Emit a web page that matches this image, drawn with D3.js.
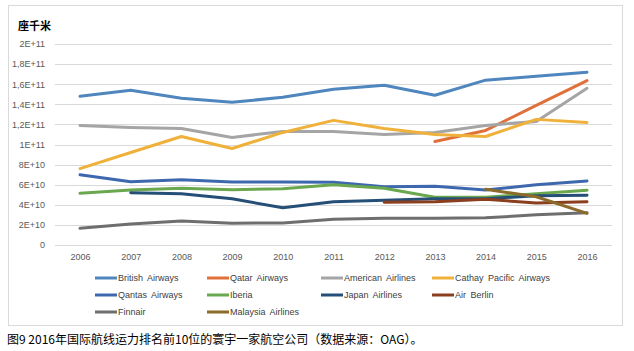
<!doctype html>
<html>
  <head>
    <meta charset="utf-8">
    <script src="https://d3js.org/d3.v7.min.js"></script>
    <style>
      body { margin: 0; background: #fff; font-family: "Liberation Sans", Arial, sans-serif; }
      .grid line { stroke: #d9d9d9; stroke-width: 1; }
      .tick text { fill: #595959; font-size: 9px; }
      path.series { fill: none; stroke-width: 3; stroke-linejoin: round; stroke-linecap: round; }
      text.legend { fill: #404040; font-size: 9px; }
    </style>
  </head>
  <body>
    <svg id="chart" width="634" height="351"></svg>
    <script>
      // years along the x axis
      var years = [2006, 2007, 2008, 2009, 2010, 2011, 2012, 2013, 2014, 2015, 2016];
      var yTicks = [0, 2e10, 4e10, 6e10, 8e10, 1e11, 1.2e11, 1.4e11, 1.6e11, 1.8e11, 2e11];
      var yTickLabels = ["0", "2E+10", "4E+10", "6E+10", "8E+10", "1E+11", "1,2E+11", "1,4E+11", "1,6E+11", "1,8E+11", "2E+11"];

      // seat kilometres, in units of 1E+10 (null = no data)
      var britishAirways = [14.8, 15.4, 14.6, 14.2, 14.7, 15.5, 15.9, 14.9, 16.4, 16.8, 17.2];
      var qatarAirways   = [null, null, null, null, null, null, null, 10.3, 11.4, 13.9, 16.35];
      var americanAir    = [11.9, 11.7, 11.6, 10.7, 11.3, 11.3, 11.0, 11.2, 11.9, 12.3, 15.6];
      var cathayPacific  = [7.6, 9.2, 10.8, 9.6, 11.2, 12.4, 11.6, 11.0, 10.8, 12.5, 12.2];
      var qantasAirways  = [7.0, 6.3, 6.5, 6.27, 6.27, 6.24, 5.8, 5.85, 5.47, 6.0, 6.37];
      var iberia         = [5.14, 5.47, 5.64, 5.5, 5.6, 6.0, 5.64, 4.75, 4.75, 5.1, 5.45];
      var japanAirlines  = [null, 5.2, 5.1, 4.6, 3.7, 4.3, 4.45, 4.6, 4.6, 4.9, 4.95];
      var airBerlin      = [null, null, null, null, null, null, 4.25, 4.3, 4.55, 4.18, 4.3];
      var finnair        = [1.66, 2.1, 2.4, 2.16, 2.2, 2.56, 2.66, 2.66, 2.7, 3.0, 3.2];
      var malaysiaAir    = [null, null, null, null, null, null, null, null, 5.54, 4.8, 3.15];

      var series = [
        { name: "British Airways", values: britishAirways, color: "#4F86BE" },
        { name: "Qatar Airways", values: qatarAirways, color: "#E0703A" },
        { name: "American Airlines", values: americanAir, color: "#A5A5A5" },
        { name: "Cathay Pacific Airways", values: cathayPacific, color: "#F0B13A" },
        { name: "Qantas Airways", values: qantasAirways, color: "#3E68AE" },
        { name: "Iberia", values: iberia, color: "#6AA84F" },
        { name: "Japan Airlines", values: japanAirlines, color: "#264F78" },
        { name: "Air Berlin", values: airBerlin, color: "#8B3F1E" },
        { name: "Finnair", values: finnair, color: "#6E6E6E" },
        { name: "Malaysia Airlines", values: malaysiaAir, color: "#8B6A2A" }
      ];

      var svg = d3.select("#chart");

      // outer frame
      svg.append("rect")
        .attr("x", 8.5).attr("y", 5.5)
        .attr("width", 614).attr("height", 320)
        .attr("fill", "none").attr("stroke", "#d9d9d9");

      svg.append("text")
        .attr("x", 18).attr("y", 30)
        .attr("font-size", "11px").attr("font-weight", "bold")
        .attr("font-family", "'Noto Sans CJK SC', sans-serif")
        .attr("fill", "#000")
        .text("座千米");

      var x = d3.scalePoint().domain(years).range([80, 587]);
      var y = d3.scaleLinear().domain([0, 2e11]).range([245, 44]);

      // gridlines
      svg.append("g").attr("class", "grid")
        .selectAll("line").data(yTicks).enter()
        .append("line")
          .attr("x1", 55).attr("x2", 612)
          .attr("y1", d => Math.round(y(d)) + 0.5)
          .attr("y2", d => Math.round(y(d)) + 0.5);

      var yAxis = svg.append("g")
        .attr("transform", "translate(48,0)")
        .call(d3.axisLeft(y).tickValues(yTicks).tickSize(0)
          .tickFormat((d, i) => yTickLabels[i]));
      yAxis.select(".domain").remove();

      var xAxis = svg.append("g")
        .attr("transform", "translate(0,251)")
        .call(d3.axisBottom(x).tickSize(0));
      xAxis.select(".domain").remove();

      var line = d3.line()
        .defined(d => d != null)
        .x((d, i) => x(years[i]))
        .y(d => y(d * 1e10));

      svg.selectAll("path.series").data(series)
        .enter()
        .append("path")
          .attr("class", "series")
          .attr("stroke", d => d.color)
          .attr("d", d => line(d.values));

      // legend: 4 columns
      var colX = [95, 207, 321, 432];
      var rowY = [278, 295, 312];
      var legend = svg.selectAll("g.legend").data(series)
        .enter()
        .append("g")
          .attr("transform", (d, i) => "translate(" + colX[i % 4] + "," + rowY[Math.floor(i / 4)] + ")");
      legend.append("line")
        .attr("x1", 0).attr("x2", 22)
        .attr("stroke", d => d.color).attr("stroke-width", 3);
      legend.append("text")
        .attr("class", "legend")
        .attr("x", 23).attr("dy", "0.35em")
        .style("word-spacing", "2px")
        .text(d => d.name);

      svg.append("text")
        .attr("x", 7).attr("y", 344)
        .attr("font-size", "12px")
        .attr("font-family", "'Noto Sans CJK SC', sans-serif")
        .attr("fill", "#000")
        .text("图9 2016年国际航线运力排名前10位的寰宇一家航空公司（数据来源：OAG）。");
    </script>
  </body>
</html>
